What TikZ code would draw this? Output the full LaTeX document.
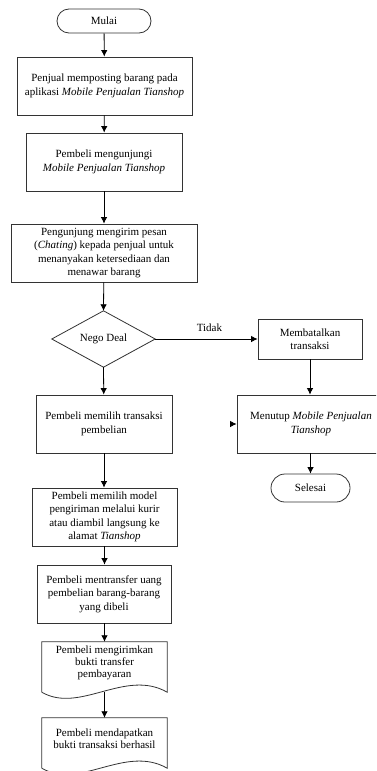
\documentclass[tikz,border=0pt]{standalone}
\usepackage{fontspec}
\setmainfont{Liberation Serif}
\usetikzlibrary{arrows.meta}
\begin{document}
\begin{tikzpicture}[x=1pt,y=-1pt,
  every node/.style={inner sep=0pt, align=center, font=\fontsize{11}{13.5}\selectfont},
  box/.style={draw=black!80, line width=0.8pt},
  term/.style={draw=black!80, line width=0.8pt, rounded corners=#1},
  ghost/.style={draw=none},
  shapeline/.style={draw=black!80, line width=0.8pt},
  arr/.style={-{Latex[length=6.5pt,width=6.5pt]}, line width=0.8pt, draw=black},
  doctext/.style={font=\fontsize{11}{12}\selectfont}]
\useasboundingbox (0,0) rectangle (376,771);
\clip (0,0) rectangle (376,771);

\node[term=12pt, minimum width=94pt, minimum height=24pt] (mulai) at (104,21) {Mulai};
\node[box, minimum width=175pt, minimum height=58pt] (b1) at (104.5,86)
  {Penjual memposting barang pada\\ aplikasi \textit{Mobile Penjualan Tianshop}};
\node[box, minimum width=156pt, minimum height=58pt] (b2) at (104,162)
  {Pembeli mengunjungi\\ \textit{Mobile Penjualan Tianshop}};
\node[box, minimum width=186pt, minimum height=58pt] (b3) at (104,253)
  {Pengunjung mengirim pesan\\ (\textit{Chating}) kepada penjual untuk\\ menanyakan ketersediaan dan\\ menawar barang};
\node[ghost, minimum width=103pt, minimum height=56pt] (dec) at (103.5,339) {Nego Deal};
\draw[shapeline] (dec.north) -- (dec.east) -- (dec.south) -- (dec.west) -- cycle;

\node[box, minimum width=104pt, minimum height=40pt] (mb) at (310,339) {Membatalkan\\ transaksi};
\node[box, minimum width=148pt, minimum height=58pt] (mt) at (311,424)
  {Menutup \textit{Mobile Penjualan}\\ \textit{Tianshop}};
\node[term=14pt, minimum width=79pt, minimum height=28pt] (sel) at (310.5,488) {Selesai};

\node[box, minimum width=136pt, minimum height=58pt] (pt) at (104,424)
  {Pembeli memilih transaksi\\ pembelian};
\node[box, minimum width=145pt, minimum height=58pt] (pm) at (104.5,517)
  {Pembeli memilih model\\ pengiriman melalui kurir\\ atau diambil langsung ke\\ alamat \textit{Tianshop}};
\node[box, minimum width=134pt, minimum height=58pt] (ptr) at (104,594)
  {Pembeli mentransfer uang\\ pembelian barang-barang\\ yang dibeli};

\node[ghost, minimum width=125pt, minimum height=50pt] (d1) at (104.5,667) {};
\node[doctext, yshift=4pt] (d1t) at (d1.center) {Pembeli mengirimkan\\ bukti transfer\\ pembayaran};
\draw[shapeline] (d1.south west) -- (d1.north west) -- (d1.north east) -- (d1.south east)
  .. controls +(-42,-24) and +(38,22) .. (d1.south west);

\node[ghost, minimum width=125pt, minimum height=50pt] (d2) at (104.5,743) {};
\node[doctext, yshift=4pt] (d2t) at (d2.center) {Pembeli mendapatkan\\ bukti transaksi berhasil};
\draw[shapeline] (d2.south west) -- (d2.north west) -- (d2.north east) -- (d2.south east)
  .. controls +(-42,-24) and +(38,22) .. (d2.south west);

\draw[arr] (mulai) -- (b1);
\draw[arr] (b1) -- (b2);
\draw[arr] (b2) -- (b3);
\draw[arr] (b3) -- (dec.north);
\draw[arr] (dec.south) -- (pt);
\draw[arr] (dec.east) -- node[above=7pt, xshift=3pt] {Tidak} (mb.west);
\draw[arr] (mb) -- (mb.south |- mt.north);
\draw[arr] (mt.south -| sel.north) -- (sel);
\draw[arr] (pt) -- (pt.south |- pm.north);
\draw[arr] (pm) -- (pm.south |- ptr.north);
\draw[arr] (ptr.south -| d1.north) -- (d1.north);
\draw[arr] (d1.south) -- (d2.north);
\coordinate (stub) at (230,424);
\draw[arr] (stub) -- (mt.west);
\end{tikzpicture}
\end{document}
